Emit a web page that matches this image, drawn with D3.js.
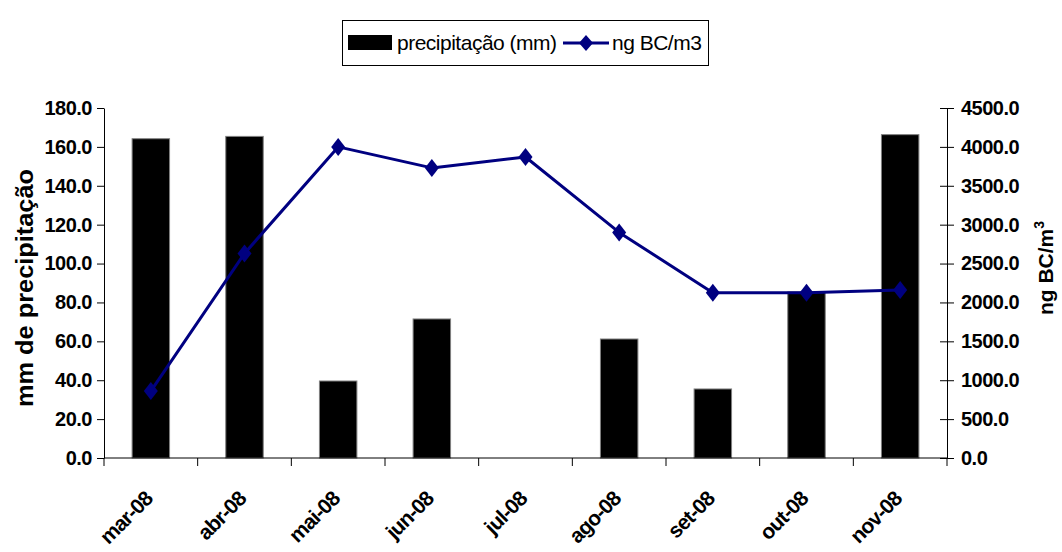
<!DOCTYPE html>
<html>
<head>
<meta charset="utf-8">
<script src="https://cdn.jsdelivr.net/npm/d3@7"></script>
<style>
  html, body { margin: 0; padding: 0; background: #fff; }
  svg { display: block; }
  text { font-family: "Liberation Sans", Arial, sans-serif; }
</style>
</head>
<body>
<svg id="chart" width="1062" height="552"></svg>
<script>
// Monthly rainfall (bars, left axis) and black-carbon concentration (line, right axis)
const months = ["mar-08", "abr-08", "mai-08", "jun-08", "jul-08", "ago-08", "set-08", "out-08", "nov-08"];
const precipitation = [164.2, 165.4, 39.6, 71.5, 0, 61.2, 35.5, 85.4, 166.3];
const blackCarbon = [860, 2630, 4000, 3730, 3870, 2900, 2125, 2125, 2160];
const leftTicks = [0, 20, 40, 60, 80, 100, 120, 140, 160, 180];
const rightTicks = [0, 500, 1000, 1500, 2000, 2500, 3000, 3500, 4000, 4500];

const svg = d3.select("#chart");
const plot = { left: 104, right: 947, top: 108, bottom: 458 };
const navy = "#000080";

const x = d3.scaleBand()
  .domain(months)
  .range([plot.left, plot.right])
  .paddingInner(0.6)
  .paddingOuter(0.3);

const yL = d3.scaleLinear().domain([0, 180]).range([plot.bottom, plot.top]);
const yR = d3.scaleLinear().domain([0, 4500]).range([plot.bottom, plot.top]);

// Bars
svg.append("g")
  .selectAll("rect")
  .data(months.map((m, i) => ({ m, v: precipitation[i] })).filter(d => d.v > 0))
  .join("rect")
  .attr("x", d => x(d.m))
  .attr("y", d => yL(d.v))
  .attr("width", x.bandwidth())
  .attr("height", d => yL(0) - yL(d.v))
  .attr("fill", "#000")
  .attr("stroke", "#808080")
  .attr("stroke-width", 1);

const styleTickText = sel => sel
  .attr("font-size", 20).attr("font-weight", "bold").attr("fill", "#000")
  .attr("letter-spacing", -0.5)
  .attr("font-family", "Liberation Sans, Arial, sans-serif");

// Left axis
const gL = svg.append("g")
  .attr("transform", `translate(${plot.left},0)`)
  .call(d3.axisLeft(yL).tickValues(leftTicks).tickSizeInner(7).tickSizeOuter(0)
    .tickPadding(5).tickFormat(d3.format(".1f")));
gL.selectAll("path, line").attr("stroke", "#000").attr("stroke-width", 1);
gL.selectAll("text").call(styleTickText);

// Right axis (ticks cross the axis line)
const gR = svg.append("g")
  .attr("transform", `translate(${plot.right},0)`)
  .call(d3.axisRight(yR).tickValues(rightTicks).tickSizeInner(7).tickSizeOuter(0)
    .tickPadding(7).tickFormat(d3.format(".1f")));
gR.selectAll(".tick line").attr("x1", -7).attr("x2", 7);
gR.selectAll("path, line").attr("stroke", "#000").attr("stroke-width", 1);
gR.selectAll("text").call(styleTickText);

// Category axis: baseline, boundary ticks and rotated labels
const gX = svg.append("g");
gX.append("line")
  .attr("x1", plot.left).attr("x2", plot.right)
  .attr("y1", plot.bottom).attr("y2", plot.bottom)
  .attr("stroke", "#000");
gX.selectAll("line.tick")
  .data(d3.range(months.length + 1))
  .join("line")
  .attr("class", "tick")
  .attr("x1", i => plot.left + i * x.step())
  .attr("x2", i => plot.left + i * x.step())
  .attr("y1", plot.bottom)
  .attr("y2", plot.bottom + 8)
  .attr("stroke", "#000");
gX.selectAll("text")
  .data(months)
  .join("text")
  .attr("transform", d => `translate(${x(d) + x.bandwidth() / 2 + 3},${plot.bottom + 42}) rotate(-45)`)
  .attr("text-anchor", "end")
  .attr("font-size", 21)
  .attr("font-weight", "bold")
  .attr("letter-spacing", -0.8)
  .text(d => d);

// Black-carbon line with diamond markers
const cx = m => x(m) + x.bandwidth() / 2;
const bcData = months.map((m, i) => ({ m, v: blackCarbon[i] }));
svg.append("path")
  .datum(bcData)
  .attr("fill", "none")
  .attr("stroke", navy)
  .attr("stroke-width", 3)
  .attr("stroke-linejoin", "round")
  .attr("d", d3.line().x(d => cx(d.m)).y(d => yR(d.v)));

const diamond = (px, py, w, h) => `M${px},${py - h}L${px + w},${py}L${px},${py + h}L${px - w},${py}Z`;
svg.append("g")
  .selectAll("path")
  .data(bcData)
  .join("path")
  .attr("d", d => diamond(cx(d.m), yR(d.v), 7, 9))
  .attr("fill", navy);

// Axis titles
svg.append("text")
  .attr("transform", `translate(33,288) rotate(-90)`)
  .attr("text-anchor", "middle")
  .attr("font-size", 24)
  .attr("font-weight", "bold")
  .attr("textLength", 238)
  .attr("lengthAdjust", "spacingAndGlyphs")
  .text("mm de precipitação");

const rt = svg.append("text")
  .attr("transform", `translate(1053,268) rotate(-90)`)
  .attr("text-anchor", "middle")
  .attr("font-size", 21)
  .attr("font-weight", "bold");
rt.append("tspan").text("ng BC/m");
rt.append("tspan").attr("dy", -9).attr("font-size", 14).text("3");

// Legend
const lg = svg.append("g");
lg.append("rect")
  .attr("x", 342.5).attr("y", 20.5).attr("width", 366).attr("height", 45)
  .attr("fill", "#fff").attr("stroke", "#000");
lg.append("rect")
  .attr("x", 348).attr("y", 35).attr("width", 44).attr("height", 15)
  .attr("fill", "#000");
lg.append("text")
  .attr("x", 397).attr("y", 50)
  .attr("font-size", 21)
  .attr("letter-spacing", -0.5)
  .text("precipitação (mm)");
lg.append("line")
  .attr("x1", 563).attr("x2", 609).attr("y1", 43).attr("y2", 43)
  .attr("stroke", navy).attr("stroke-width", 3);
lg.append("path")
  .attr("d", diamond(586, 43, 7, 8))
  .attr("fill", navy);
lg.append("text")
  .attr("x", 612).attr("y", 50)
  .attr("font-size", 21)
  .attr("letter-spacing", -0.5)
  .text("ng BC/m3");
</script>
</body>
</html>
